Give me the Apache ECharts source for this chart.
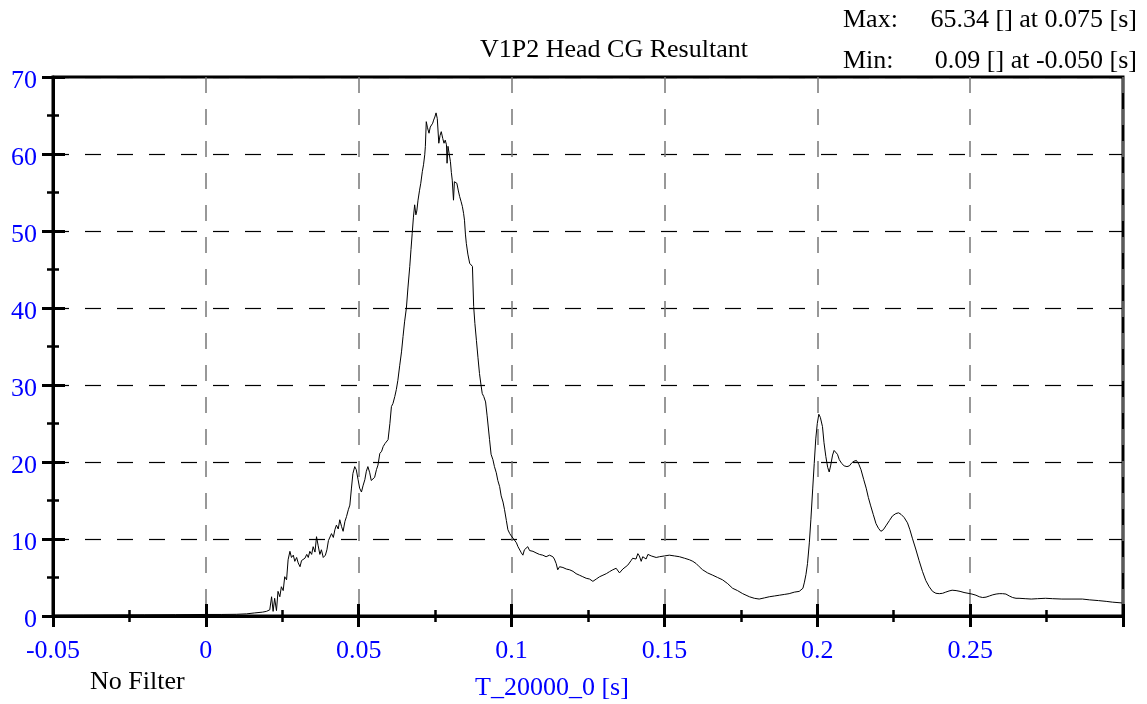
<!DOCTYPE html>
<html>
<head>
<meta charset="utf-8">
<script src="https://cdn.jsdelivr.net/npm/echarts@6/dist/echarts.min.js"></script>
<style>
html,body{margin:0;padding:0;background:#fff;}
#chart{width:1147px;height:704px;}
</style>
</head>
<body>
<div id="chart"></div>
<script>
const chartTitle = 'V1P2 Head CG Resultant';
const xAxisTitle = 'T_20000_0 [s]';
const filterNote = 'No Filter';
const maxLabel = 'Max:';
const maxText = '65.34 [] at 0.075 [s]';
const minLabel = 'Min:';
const minText = '0.09 [] at -0.050 [s]';

const xTicks = [-0.05, 0, 0.05, 0.1, 0.15, 0.2, 0.25, 0.3];
const yTicks = [0, 10, 20, 30, 40, 50, 60, 70];

const times = [
-0.05,-0.04,-0.03,-0.02,-0.01,0.0,0.005,0.01,0.0133,0.016,0.0185,0.0198,0.0209,0.0215,0.022,0.0225,0.0231,0.0236,0.0242,0.0247,0.0253,0.0258,0.0264,0.0269,0.0275,0.0280,0.0286,0.0291,0.0297,0.0302,0.0308,0.0313,0.0319,0.0324,0.0330,0.0335,0.0340,0.0346,0.0351,0.0357,0.0362,0.0367,0.0373,0.0378,0.0384,0.0391,0.0396,0.0401,0.0406,0.0411,0.0417,0.0422,0.0427,0.0433,0.0438,0.0444,0.0449,0.0455,0.0460,0.0466,0.0471,0.0476,0.0481,0.0487,0.0492,0.0498,0.0503,0.0509,0.0514,0.0520,0.0525,0.0530,0.0536,0.0541,0.0547,0.0552,0.0558,0.0563,0.0569,0.0575,0.0580,0.0586,0.0591,0.0596,0.0602,0.0607,0.0612,0.0618,0.0623,0.0628,0.0634,0.0640,0.0645,0.0650,0.0656,0.0661,0.0667,0.0671,0.0675,0.0679,0.0683,0.0687,0.0690,0.0694,0.0699,0.0703,0.0708,0.0712,0.0716,0.0718,0.0721,0.0725,0.0730,0.0734,0.0738,0.0742,0.0745,0.0749,0.0753,0.0757,0.0762,0.0766,0.0770,0.0775,0.0779,0.0783,0.0787,0.0789,0.0792,0.0796,0.0800,0.0803,0.0806,0.0810,0.0813,0.0817,0.0821,0.0826,0.0830,0.0835,0.0839,0.0843,0.0846,0.0849,0.0852,0.0857,0.0863,0.0868,0.0872,0.0876,0.0880,0.0885,0.0890,0.0895,0.0900,0.0904,0.0909,0.0915,0.0920,0.0928,0.0933,0.0939,0.0944,0.0950,0.0955,0.0961,0.0966,0.0972,0.0977,0.0983,0.0988,0.0994,0.0999,0.1005,0.1010,0.1016,0.1021,0.1027,0.1032,0.1037,0.1042,0.1048,0.1053,0.1059,0.1064,0.1070,0.1080,0.1091,0.1102,0.1113,0.1124,0.1135,0.1140,0.1146,0.1151,0.1157,0.1168,0.1179,0.1190,0.1201,0.1211,0.1222,0.1233,0.1244,0.1255,0.1266,0.1277,0.1288,0.1299,0.1310,0.1320,0.1331,0.1342,0.1347,0.1353,0.1358,0.1364,0.1369,0.1380,0.1391,0.1396,0.1402,0.1407,0.1413,0.1418,0.1424,0.1429,0.1435,0.1440,0.1446,0.1451,0.1457,0.1462,0.1473,0.1484,0.1500,0.1516,0.1533,0.1549,0.1566,0.1582,0.1593,0.1604,0.1614,0.1625,0.1641,0.1658,0.1674,0.1690,0.1707,0.1723,0.1739,0.1756,0.1767,0.1778,0.1794,0.1810,0.1827,0.1843,0.1860,0.1876,0.1892,0.1908,0.1925,0.1941,0.1947,0.1953,0.1958,0.1963,0.1968,0.1974,0.1979,0.1985,0.1990,0.1995,0.2000,0.2005,0.2010,0.2017,0.2022,0.2028,0.2034,0.2039,0.2044,0.2050,0.2055,0.2060,0.2066,0.2072,0.2080,0.2088,0.2097,0.2105,0.2113,0.2120,0.2128,0.2136,0.2143,0.2152,0.2160,0.2167,0.2174,0.2183,0.2192,0.2200,0.2208,0.2216,0.2226,0.2236,0.2246,0.2257,0.2266,0.2274,0.2284,0.2295,0.2303,0.2311,0.2322,0.2333,0.2344,0.2355,0.2366,0.2377,0.2388,0.2399,0.2410,0.2420,0.2431,0.2441,0.2454,0.2467,0.2480,0.2493,0.2506,0.2519,0.2530,0.2541,0.2552,0.2563,0.2574,0.2585,0.2595,0.2606,0.2617,0.2628,0.2639,0.2650,0.2660,0.2680,0.2700,0.2720,0.2747,0.2770,0.2800,0.2830,0.2867,0.2890,0.2920,0.2945,0.2965,0.2996
];

const values = [
0.09,0.11,0.13,0.15,0.17,0.2,0.2,0.22,0.28,0.4,0.5,0.6,0.8,2.5,0.6,2.3,0.7,3.2,2.5,3.8,3.3,5.1,4.7,7.3,8.4,7.6,7.9,7.1,7.6,6.9,6.4,7.2,7.0,7.5,8.0,7.6,8.4,8.0,9.0,8.3,10.3,9.2,8.0,8.6,7.6,7.9,8.6,9.8,9.6,10.7,10.2,11.2,11.8,11.3,12.5,11.6,11.0,12.3,12.9,13.8,14.4,16.5,18.5,19.4,19.0,17.7,16.6,16.1,16.9,17.7,18.8,19.4,18.6,17.6,17.4,18.0,19.0,19.6,21.1,21.4,22.0,22.4,22.6,22.9,25.0,27.2,27.6,28.5,29.4,30.6,32.5,34.3,36.3,38.2,40.0,42.6,45.4,47.6,49.7,51.8,53.4,52.1,52.6,54.0,55.3,56.2,57.7,58.6,59.9,61.0,64.2,63.4,62.7,63.5,63.3,64.0,64.4,64.8,65.34,64.6,61.4,62.4,62.9,62.0,61.4,61.8,61.2,58.8,61.0,60.0,59.0,57.6,56.6,54.0,56.4,56.6,56.2,55.2,54.5,53.8,53.2,52.3,51.4,49.6,48.4,47.0,45.8,45.6,45.4,40.2,38.0,35.8,33.6,31.5,30.0,28.9,28.5,27.8,26.0,22.9,21.0,20.3,19.4,18.6,17.6,16.8,15.6,14.8,13.8,12.4,11.2,10.7,10.4,10.1,9.9,9.5,9.0,8.8,8.2,7.9,8.6,8.4,9.0,8.5,8.6,8.4,8.2,8.0,7.9,7.7,7.9,7.7,7.4,6.8,6.0,6.4,6.3,6.1,6.0,5.8,5.5,5.3,5.1,4.9,4.8,4.5,4.8,5.1,5.3,5.5,5.75,6.0,6.2,6.1,5.6,5.75,6.1,6.3,6.6,7.2,7.5,7.7,7.4,8.1,7.8,7.1,7.7,7.9,7.4,8.0,8.1,7.8,7.7,7.6,7.7,7.8,7.9,7.8,7.7,7.5,7.3,7.1,6.8,6.4,6.0,5.6,5.3,5.0,4.7,4.2,3.6,3.3,2.9,2.7,2.5,2.3,2.2,2.35,2.5,2.6,2.7,2.8,2.9,3.1,3.2,3.4,3.6,4.4,5.4,6.8,9.5,12.5,16.5,19.8,23.0,25.0,26.2,25.8,24.6,22.5,20.7,19.3,18.7,19.6,20.9,21.5,21.6,21.0,20.3,19.8,19.5,19.4,19.5,19.9,20.1,20.2,19.7,19.0,17.7,16.6,15.4,14.4,13.2,12.0,11.4,11.0,11.2,11.8,12.4,13.0,13.3,13.4,13.2,12.8,12.1,11.2,10.1,8.7,7.2,5.8,4.6,3.8,3.2,2.95,2.9,2.95,3.1,3.25,3.35,3.3,3.2,3.05,2.95,2.85,2.7,2.5,2.4,2.45,2.6,2.75,2.85,2.9,2.9,2.85,2.6,2.4,2.3,2.3,2.25,2.2,2.25,2.3,2.25,2.2,2.2,2.2,2.1,2.0,1.9,1.8,1.7
];

const FONT = '"Liberation Serif", "Times New Roman", serif';
const xMin = xTicks[0], xMax = xTicks[xTicks.length - 1];
const xStep = xTicks[1] - xTicks[0];
const yMin = yTicks[0], yMax = yTicks[yTicks.length - 1];
const yStep = yTicks[1] - yTicks[0];

const gridBox = { left: 53, right: 24, top: 77, bottom: 88 };

function fmtX(v) {
  if (Math.abs(v - xMax) < 1e-9) return '';
  return String(parseFloat(v.toFixed(4)));
}

const chart = echarts.init(document.getElementById('chart'), null, { renderer: 'canvas' });

const option = {
  backgroundColor: '#ffffff',
  animation: false,
  title: {
    text: chartTitle,
    left: 480,
    top: 37,
    padding: 0,
    textStyle: { fontFamily: FONT, fontSize: 26, fontWeight: 'normal', color: '#000' }
  },
  grid: [
    Object.assign({ show: true, borderColor: '#000', borderWidth: 3, backgroundColor: 'transparent', containLabel: false }, gridBox),
    Object.assign({ show: false, containLabel: false }, gridBox)
  ],
  xAxis: [
    {
      type: 'value', gridIndex: 0, position: 'bottom',
      min: xMin, max: xMax, interval: xStep,
      axisLine: { show: true, onZero: false, lineStyle: { color: '#000', width: 3 } },
      axisTick: { show: true, inside: false, length: 11, lineStyle: { color: '#000', width: 3 } },
      minorTick: { show: true, splitNumber: 2, length: 6, lineStyle: { color: '#000', width: 2.5 } },
      axisLabel: { show: true, margin: 22, color: '#0000ff', fontFamily: FONT, fontSize: 26, formatter: fmtX, showMaxLabel: true },
      splitLine: { show: true, lineStyle: { color: '#777', width: 1.5, type: [16, 16] } }
    },
    {
      type: 'value', gridIndex: 1, position: 'bottom',
      min: xMin, max: xMax, interval: xStep,
      axisLine: { show: false, onZero: false },
      axisTick: { show: true, inside: true, length: 12, lineStyle: { color: '#000', width: 3 } },
      minorTick: { show: true, splitNumber: 2, length: 6, lineStyle: { color: '#000', width: 2.5 } },
      axisLabel: { show: false },
      splitLine: { show: false }
    }
  ],
  yAxis: [
    {
      type: 'value', gridIndex: 0, position: 'left',
      min: yMin, max: yMax, interval: yStep,
      axisLine: { show: true, onZero: false, lineStyle: { color: '#000', width: 3 } },
      axisTick: { show: true, inside: false, length: 11, lineStyle: { color: '#000', width: 3 } },
      minorTick: { show: true, splitNumber: 2, length: 6, lineStyle: { color: '#000', width: 2.5 } },
      axisLabel: { show: true, margin: 16, color: '#0000ff', fontFamily: FONT, fontSize: 26, verticalAlign: 'top', lineHeight: 8 },
      splitLine: { show: true, lineStyle: { color: '#000', width: 1.2, type: [16, 16] } }
    },
    {
      type: 'value', gridIndex: 1, position: 'left',
      min: yMin, max: yMax, interval: yStep,
      axisLine: { show: false, onZero: false },
      axisTick: { show: true, inside: true, length: 12, lineStyle: { color: '#000', width: 3 } },
      minorTick: { show: true, splitNumber: 2, length: 6, lineStyle: { color: '#000', width: 2.5 } },
      axisLabel: { show: false },
      splitLine: { show: false }
    }
  ],
  series: [
    {
      type: 'line',
      name: chartTitle,
      xAxisIndex: 0, yAxisIndex: 0,
      data: times.map((t, i) => [t, values[i]]),
      showSymbol: false,
      symbol: 'none',
      smooth: false,
      lineStyle: { color: '#000', width: 1 },
      z: 3
    }
  ],
  graphic: [
    { type: 'text', left: 843, top: 7, style: { text: maxLabel, font: '26px ' + FONT, fill: '#000' } },
    { type: 'text', right: 10, top: 7, style: { text: maxText, font: '26px ' + FONT, fill: '#000' } },
    { type: 'text', left: 843, top: 48, style: { text: minLabel, font: '26px ' + FONT, fill: '#000' } },
    { type: 'text', right: 10, top: 48, style: { text: minText, font: '26px ' + FONT, fill: '#000' } },
    { type: 'text', left: 90, top: 669, style: { text: filterNote, font: '26px ' + FONT, fill: '#000' } },
    { type: 'text', left: 475, top: 675, style: { text: xAxisTitle, font: '26px ' + FONT, fill: '#0000ff' } }
  ]
};

chart.setOption(option);
</script>
</body>
</html>
